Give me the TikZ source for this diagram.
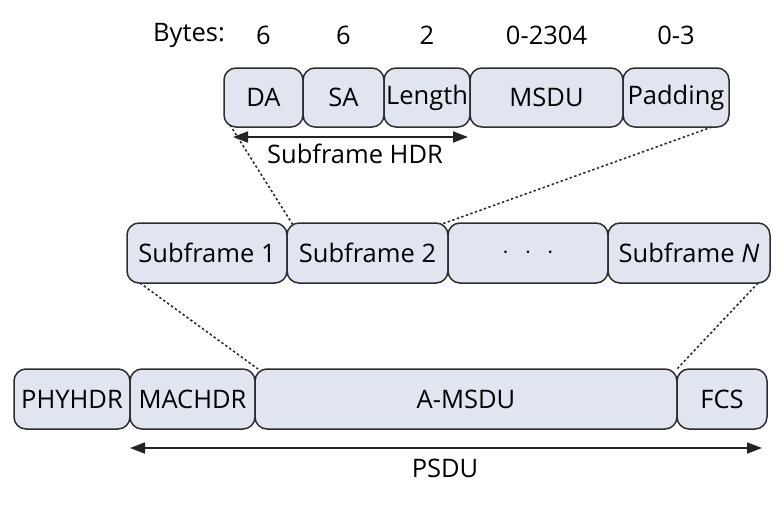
\documentclass[tikz,border=0pt]{standalone}
\usepackage{fontspec}
\setmainfont{Open Sans}
\usetikzlibrary{calc,arrows.meta}
\definecolor{boxfill}{RGB}{225,229,240}
\definecolor{boxline}{RGB}{45,45,45}
\definecolor{arrline}{RGB}{35,35,35}
\tikzset{
  fbox/.style={draw=boxline, fill=boxfill, line width=1.5pt, rounded corners=12pt,
    inner sep=0pt, outer sep=0pt, font=\fontsize{25.5}{30}\selectfont},
  lbl/.style={inner sep=0pt, font=\fontsize{25.5}{30}\selectfont},
  dotline/.style={draw=boxline, line width=1.6pt, dash pattern=on 2.4pt off 2.4pt},
  dimarrow/.style={draw=arrline, line width=1.8pt,
    {Triangle[length=15pt,width=11pt]}-{Triangle[length=15pt,width=11pt]}}
}
\begin{document}
\begin{tikzpicture}[x=1pt,y=-1pt]
\useasboundingbox (0,0) rectangle (784,504);
% top row
\node[fbox, minimum width=79pt, minimum height=59pt] (da) at (263.5,97.5) {DA};
\node[fbox, minimum width=81pt, minimum height=59pt] (sa) at (343.5,97.5) {SA};
\node[fbox, minimum width=86pt, minimum height=59pt] (len) at (427,97.5) {Length};
\node[fbox, minimum width=153pt, minimum height=59pt] (msdu) at (546.5,97.5) {MSDU};
\node[fbox, minimum width=106pt, minimum height=59pt] (pad) at (676,97.5) {Padding};
% bytes row
\node[lbl] (bytes) at (189,35) {Bytes:};
\node[lbl] (b1) at (263.5,35) {6};
\node[lbl] (b2) at (343.5,35) {6};
\node[lbl] (b3) at (427,35) {2};
\node[lbl] (b4) at (546.5,35) {0-2304};
\node[lbl] (b5) at (676,35) {0-3};
% subframe hdr
\coordinate (hdrL) at ($(da.south west)+(9,10)$);
\coordinate (hdrR) at ($(len.south east)+(-2,10)$);
\draw[dimarrow] (hdrL) -- (hdrR);
\node[lbl] (hdrlbl) at (355,154) {Subframe HDR};
% middle row
\node[fbox, minimum width=160pt, minimum height=60pt] (s1) at (207,253) {Subframe 1};
\node[fbox, minimum width=161pt, minimum height=60pt] (s2) at (367.5,253) {Subframe 2};
\node[fbox, minimum width=160pt, minimum height=60pt] (dots) at (528,253) {$\cdot\hspace{10pt}\cdot\hspace{10pt}\cdot$};
\node[fbox, minimum width=162pt, minimum height=60pt] (sn) at (689,253) {Subframe \textit{N}};
% bottom row
\node[fbox, minimum width=116pt, minimum height=60pt] (phy) at (72,399) {PHYHDR};
\node[fbox, minimum width=125pt, minimum height=60pt] (mac) at (192.5,399) {MACHDR};
\node[fbox, minimum width=422pt, minimum height=60pt] (amsdu) at (466,399) {A-MSDU};
\node[fbox, minimum width=90pt, minimum height=60pt] (fcs) at (722,399) {FCS};
% psdu
\coordinate (psdL) at ($(mac.south west)+(0,19)$);
\coordinate (psdR) at ($(fcs.south east)+(-5,19)$);
\draw[dimarrow] (psdL) -- (psdR);
\node[lbl] (psdlbl) at (445,468) {PSDU};
% dotted expansion lines
\draw[dotline] ($(da.south west)+(6,-2)$) -- ($(s2.north west)+(6,2)$);
\draw[dotline] ($(pad.south east)+(-17,0)$) -- ($(s2.north east)+(-6,1)$);
\draw[dotline] ($(s1.south west)+(13,0)$) -- ($(amsdu.north west)+(3,0)$);
\draw[dotline] ($(sn.south east)+(-12,0)$) -- ($(amsdu.north east)+(0,0)$);
\end{tikzpicture}
\end{document}
